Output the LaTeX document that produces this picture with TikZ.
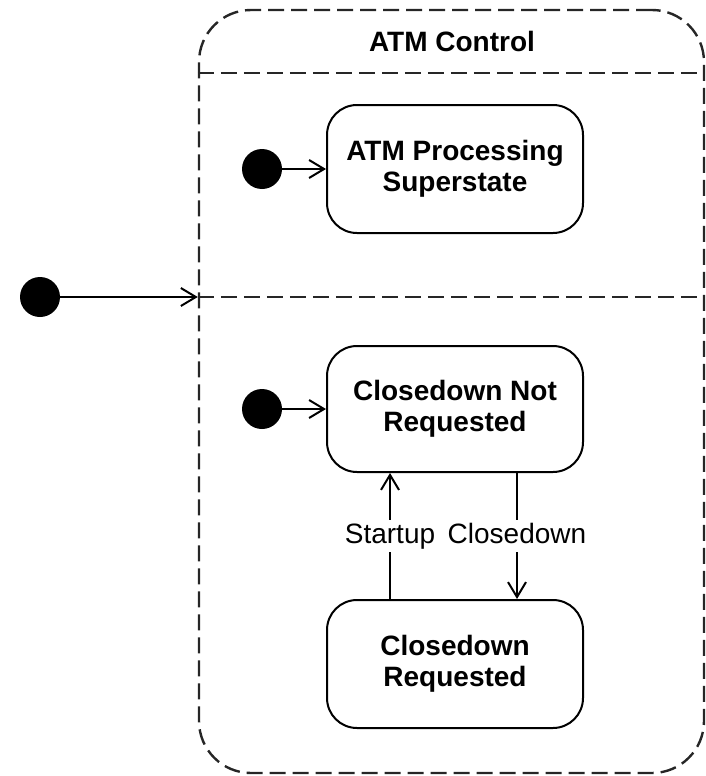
\documentclass[tikz,border=0pt]{standalone}
\usepackage{fontspec}
\setmainfont{Liberation Sans}
\usetikzlibrary{arrows.meta}

\tikzset{
  statebox/.style={draw, line width=2pt, rounded corners=30pt,
    minimum width=256pt, minimum height=128pt, align=center,
    font=\fontsize{28}{31.5}\selectfont\bfseries},
  initdot/.style={circle, fill=black, draw=none, minimum size=40pt, inner sep=0pt},
  arr/.style={line width=2pt, -{Straight Barb[length=15pt, width=18pt, line width=2pt]}},
  trlabel/.style={fill=white, inner sep=3pt, text height=20pt, text depth=6pt,
    font=\fontsize{28}{31}\selectfont},
  region/.style={draw=black!85, line width=2.4pt, dash pattern=on 16pt off 7pt},
}

\begin{document}
\begin{tikzpicture}[x=1pt, y=-1pt]
  \useasboundingbox (0,0) rectangle (706,776);

  % composite state with two orthogonal regions
  \node[region, rounded corners=52pt, minimum width=505pt, minimum height=763pt,
        inner sep=0pt] (ctrl) at (451.5,391.5) {};
  \node[font=\fontsize{28}{31}\selectfont\bfseries] (title) at (452,41) {ATM Control};
  \coordinate (sepAl) at (ctrl.west |- 0,73);
  \coordinate (sepAr) at (ctrl.east |- 0,73);
  \coordinate (sepBl) at (ctrl.west |- 0,297);
  \coordinate (sepBr) at (ctrl.east |- 0,297);
  \draw[region] (sepAl) -- (sepAr);
  \draw[region] (sepBl) -- (sepBr);

  % outer initial pseudostate
  \node[initdot] (d0) at (40,297) {};
  \coordinate (entry) at (ctrl.west |- d0);
  \draw[arr] (d0) -- (entry);

  % upper region
  \node[statebox] (s1) at (455,169) {ATM Processing\\Superstate};
  \node[initdot] (d1) at (262,169) {};
  \draw[arr] (d1) -- (s1);

  % lower region
  \node[statebox, minimum height=126pt] (s2) at (455,409) {Closedown Not\\Requested};
  \node[statebox] (s3) at (455,664) {Closedown\\Requested};
  \node[initdot] (d2) at (262,409) {};
  \draw[arr] (d2) -- (s2);

  \draw[arr] ([xshift=-65pt]s3.north) -- node[trlabel] {Startup} ([xshift=-65pt]s2.south);
  \draw[arr] ([xshift=62pt]s2.south) -- node[trlabel] {Closedown} ([xshift=62pt]s3.north);
\end{tikzpicture}
\end{document}
